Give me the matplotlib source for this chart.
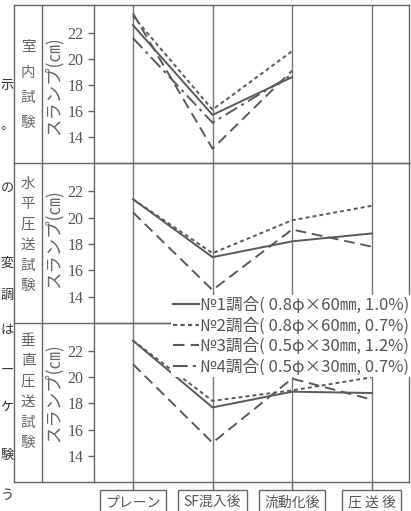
import matplotlib
matplotlib.use("Agg")
import matplotlib.pyplot as plt
from matplotlib.lines import Line2D

plt.rcParams['font.family'] = ['Noto Sans CJK JP', 'DejaVu Sans']

# stages of the test and mix labels
stages = ['プレーン', 'SF混入後', '流動化後', '圧 送 後']
mix_labels = ['№1調合( 0.8φ×60㎜, 1.0%)',
              '№2調合( 0.8φ×60㎜, 0.7%)',
              '№3調合( 0.5φ×30㎜, 1.2%)',
              '№4調合( 0.5φ×30㎜, 0.7%)']
panel_names = ['室内試験', '水平圧送試験', '垂直圧送試験']
slump_ticks = [14, 16, 18, 20, 22]

# slump (cm) - indoor test, up to fluidizing
indoor_no1 = [22.6, 15.7, 18.6]
indoor_no2 = [23.3, 16.1, 20.6]
indoor_no3 = [23.5, 13.1, 19.1]
indoor_no4 = [21.6, 15.1, 18.8]
# horizontal pumping test
horiz_no1 = [21.4, 17.0, 18.2, 18.8]
horiz_no2 = [21.4, 17.3, 19.8, 20.9]
horiz_no3 = [20.4, 14.5, 19.1, 17.8]
# vertical pumping test
vert_no1 = [22.8, 17.7, 18.9, 18.8]
vert_no2 = [22.8, 18.2, 19.0, 20.0]
vert_no3 = [21.0, 15.0, 19.9, 18.3]

# page text along the left margin
margin_chars = ['示', '。', 'の', '変', '調', 'は', 'ー', 'ケ', '験', 'う']
margin_y = [85, 125, 188, 263, 295, 330, 370, 407, 455, 496]

gray = '#5a5a5a'
styles = ['-', (0, (2, 1.6)), (0, (5.5, 3)), (0, (7, 2.5, 1.5, 2.5))]

W, H = 411, 511
fig = plt.figure(figsize=(W / 100, H / 100), dpi=100)

def fx(px):
    return px / W

def fy(py):
    return 1 - py / H

left, right = 94, 409
tops = [5, 163, 323]
bottoms = [163, 323, 482]
series = [[indoor_no1, indoor_no2, indoor_no3, indoor_no4],
          [horiz_no1, horiz_no2, horiz_no3],
          [vert_no1, vert_no2, vert_no3]]

axes = []
for i in range(3):
    ax = fig.add_axes([fx(left), fy(bottoms[i]), fx(right - left),
                       (bottoms[i] - tops[i]) / H])
    ax.set_facecolor('none')
    for k, vals in enumerate(series[i]):
        ax.plot(range(len(vals)), vals, color=gray, lw=1.4, ls=styles[k])
    for x in range(len(stages)):
        ax.axvline(x, color='#777777', lw=1.0, zorder=0)
    ax.set_xlim(-0.49, 3.47)
    ax.set_ylim(12, 24.15)
    ax.set_yticks(slump_ticks)
    ax.set_yticklabels([str(t) for t in slump_ticks],
                       family='Liberation Serif', fontsize=11.5, color='#555555')
    ax.tick_params(axis='y', direction='out', length=4.5, width=1,
                   color='#666666', pad=3)
    for s in ax.spines.values():
        s.set_color('#666666')
        s.set_linewidth(1.0)
    axes.append(ax)

for ax in axes[:2]:
    ax.set_xticks([])

ax3 = axes[2]
ax3.set_xticks(range(len(stages)))
ax3.set_xticklabels(stages, fontsize=10, color='#555555')
ax3.tick_params(axis='x', direction='out', length=5.8, width=1,
                color='#666666', pad=3.8)
for lab in ax3.get_xticklabels():
    lab.set_bbox(dict(boxstyle='square,pad=0.38', fc='white',
                      ec='#666666', lw=1.0))

# left columns: test names and y label
bg = fig.add_axes([0, 0, 1, 1], zorder=-1)
bg.set_xlim(0, W)
bg.set_ylim(H, 0)
bg.axis('off')
for y in [5, 163, 323, 482]:
    bg.plot([14, left], [y, y], color='#666666', lw=1.0)
for x in [14, 42]:
    bg.plot([x, x], [5, 482], color='#666666', lw=1.0)

name_centers = [85, 235, 392]
name_steps = [25, 20.5, 20.5]
label_centers = [86, 239, 393]
for i, name in enumerate(panel_names):
    n = len(name)
    for j, ch in enumerate(name):
        yy = name_centers[i] + (j - (n - 1) / 2) * name_steps[i]
        bg.text(28, yy, ch, ha='center', va='center', fontsize=10.5,
                color='#666666')
    bg.text(53, label_centers[i], 'スランプ(㎝)', rotation=90, ha='center',
            va='center', fontsize=12.5, color='#666666')

for ch, yy in zip(margin_chars, margin_y):
    bg.text(7, yy, ch, ha='center', va='center', fontsize=9.5, color='#333333')

handles = [Line2D([], [], color=gray, lw=1.5, ls=s) for s in styles]
leg = fig.legend(handles, mix_labels, loc='upper right',
                 bbox_to_anchor=(fx(411), fy(295)), fontsize=12,
                 handlelength=1.6, handletextpad=0.05, labelspacing=0.2,
                 borderpad=0.1, borderaxespad=0, frameon=True, fancybox=False)
leg.get_frame().set_facecolor('white')
leg.get_frame().set_edgecolor('none')
leg.get_frame().set_alpha(1)
for t in leg.get_texts():
    t.set_color('#555555')

fig.savefig('out.png', dpi=100)
